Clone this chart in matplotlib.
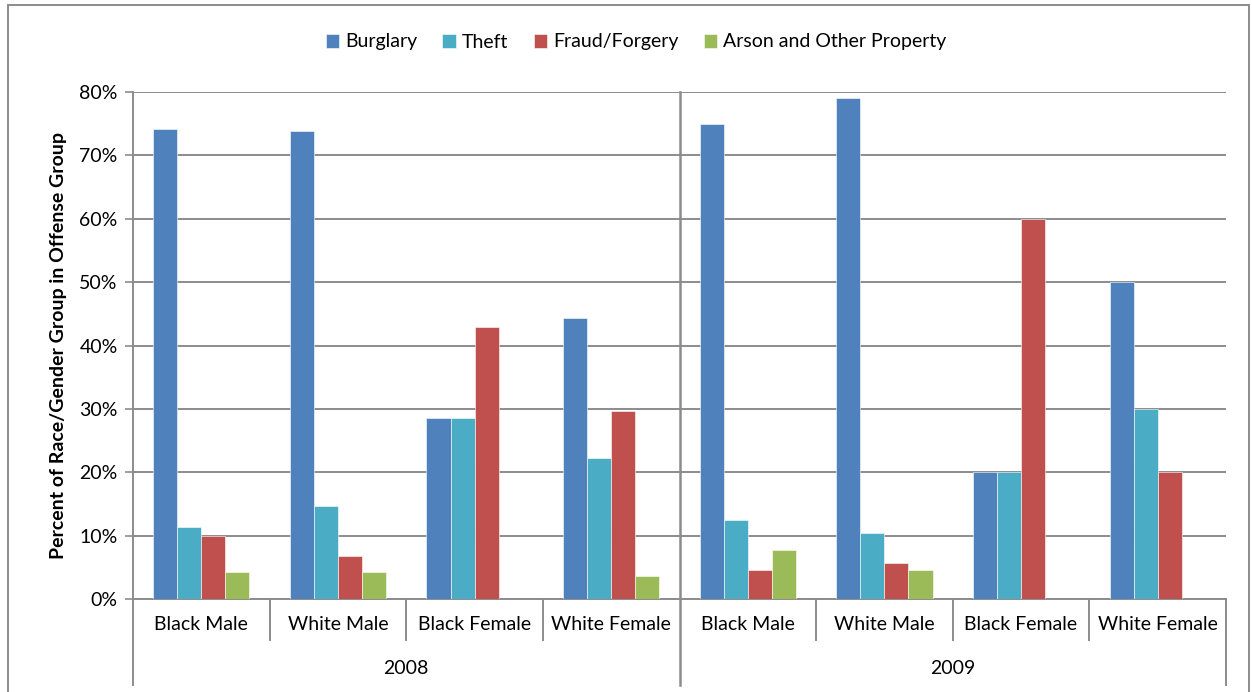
import matplotlib
matplotlib.use("Agg")
import matplotlib.pyplot as plt
from matplotlib.patches import Rectangle
from matplotlib.lines import Line2D
import numpy as np

plt.rcParams['font.family'] = ['Lato', 'DejaVu Sans']

years = ["2008", "2009"]
groups = ["Black Male", "White Male", "Black Female", "White Female"]
series = ["Burglary", "Theft", "Fraud/Forgery", "Arson and Other Property"]
colors = ["#4F81BD", "#4BACC6", "#C0504D", "#9BBB59"]

burglary = [74.2, 73.8, 28.6, 44.4, 75.0, 79.0, 20.0, 50.0]
theft = [11.3, 14.7, 28.6, 22.2, 12.4, 10.4, 20.0, 30.0]
fraud = [10.0, 6.8, 42.9, 29.6, 4.5, 5.7, 60.0, 20.0]
arson = [4.3, 4.3, 0.0, 3.7, 7.7, 4.5, 0.0, 0.0]
values = [burglary, theft, fraud, arson]

W, H = 1252, 692
fig = plt.figure(figsize=(W / 100, H / 100), dpi=100)
left, right, top, bottom = 133, 1226, 92, 599
ax = fig.add_axes([left / W, 1 - bottom / H, (right - left) / W, (bottom - top) / H])

FS = 14

n = len(burglary)
x = np.arange(n)
bw = 0.176
for i, (vals, col, name) in enumerate(zip(values, colors, series)):
    ax.bar(x + (i - 1.5) * bw, vals, width=bw, color=col, label=name,
           edgecolor="white", linewidth=0.4, zorder=3)

ax.set_xlim(-0.5, n - 0.5)
ax.set_ylim(0, 80)
ax.set_yticks(range(0, 81, 10))
ax.set_yticklabels([f"{v}%" for v in range(0, 81, 10)], fontsize=FS)
ax.yaxis.grid(True, color="#8C8C8C", linewidth=1.4, zorder=0)
ax.tick_params(axis="y", length=6, color="#8C8C8C", width=1.2, pad=5)
for s in ["top", "right"]:
    ax.spines[s].set_visible(False)
ax.spines["left"].set_color("#8C8C8C")
ax.spines["left"].set_linewidth(1.4)
ax.spines["bottom"].set_color("#8C8C8C")
ax.spines["bottom"].set_linewidth(1.4)

ax.set_xticks(x)
ax.set_xticklabels(groups * len(years), fontsize=FS)
ax.tick_params(axis="x", length=0, pad=12)

trans = ax.get_xaxis_transform()
ph = bottom - top
d1 = -41 / ph
d2 = -86 / ph
for k in range(1, n):
    if k % len(groups) == 0:
        continue
    ax.add_line(Line2D([k - 0.5, k - 0.5], [0, d1], transform=trans, color="#8C8C8C",
                       linewidth=1.4, clip_on=False))
for k in range(0, n + 1, len(groups)):
    y0 = 1 if 0 < k < n else 0
    ax.add_line(Line2D([k - 0.5, k - 0.5], [y0, d2], transform=trans, color="#8C8C8C",
                       linewidth=1.8 if 0 < k < n else 1.4, clip_on=False, zorder=4))
for j, yr in enumerate(years):
    cx = j * len(groups) + (len(groups) - 1) / 2
    ax.text(cx, -69 / ph, yr, transform=trans, ha="center", va="center", fontsize=FS)

ax.set_ylabel("Percent of Race/Gender Group in Offense Group", fontsize=FS,
              fontweight="bold", labelpad=9)

fig.legend(loc="center", bbox_to_anchor=(636 / W, 1 - 42 / H), ncol=4, frameon=False,
           fontsize=FS, handlelength=0.7, handleheight=0.7, handletextpad=0.3,
           columnspacing=1.3)

fig.patches.append(Rectangle((8 / W, -0.05), (1249 - 8) / W, 1.05 - 5 / H,
                             transform=fig.transFigure, fill=False,
                             edgecolor="#8C8C8C", linewidth=1.4))

fig.savefig("out.png", dpi=100)
